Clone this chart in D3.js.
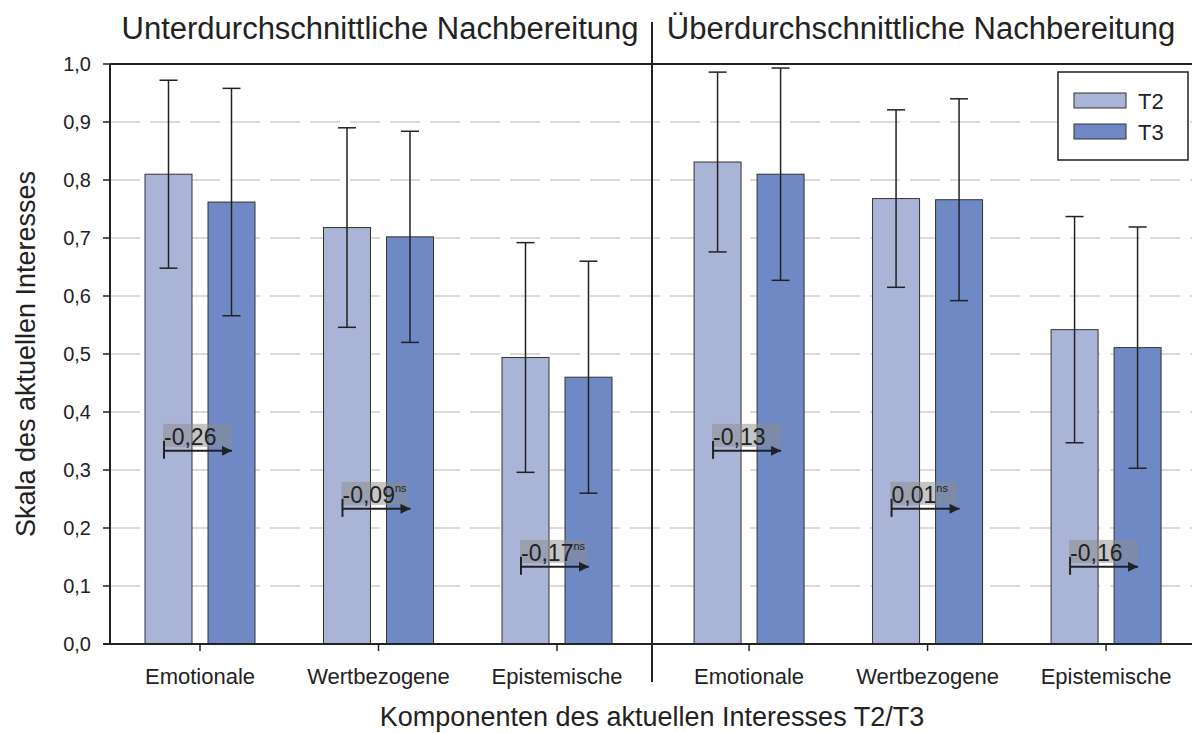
<!DOCTYPE html>
<html><head><meta charset="utf-8">
<script src="https://cdn.jsdelivr.net/npm/d3@7"></script>
<style>body{margin:0;background:#fff}svg{display:block;font-family:"Liberation Sans",Arial,sans-serif}</style>
</head><body><svg id="c" width="1192" height="733"></svg>
<script>
const categories = ["Emotionale","Wertbezogene","Epistemische","Emotionale","Wertbezogene","Epistemische"];
const halves = [0,0,0,1,1,1];
const panelTitles = ["Unterdurchschnittliche Nachbereitung","Überdurchschnittliche Nachbereitung"];
const seriesNames = ["T2","T3"];
const t2Mean = [0.810,0.718,0.494,0.831,0.768,0.542];
const t2SD   = [0.162,0.172,0.198,0.155,0.153,0.195];
const t3Mean = [0.762,0.702,0.460,0.810,0.766,0.511];
const t3SD   = [0.196,0.182,0.200,0.183,0.174,0.208];
const diffLabels = ["-0,26","-0,09","-0,17","-0,13","0,01","-0,16"];
const diffSig = ["","ns","ns","","ns",""];
const diffLevel = [0.333,0.233,0.133,0.333,0.233,0.133];
const yTicks = [0,0.1,0.2,0.3,0.4,0.5,0.6,0.7,0.8,0.9,1.0];
const colors = ["#aab4d7","#6e89c4"];

(function(){
const svg = d3.select("#c");
const pl = 110, pr = 1192, pt = 64, pb = 644;
const y = d3.scaleLinear().domain([0,1]).range([pb, pt]);
const halfGap = 0.076;
const x = d3.scaleLinear().domain([0,1]).range([200, 378.5]);
const pos = i => x(i + halves[i]*halfGap);
const divX = 652;

// grid
svg.append("g").selectAll("line").data(yTicks.filter(t=>t>0 && t<1)).join("line")
  .attr("x1", pl).attr("x2", pr).attr("y1", d=>y(d)).attr("y2", d=>y(d))
  .attr("stroke","#cfcfcf").attr("stroke-width",1.5).attr("stroke-dasharray","30,10");

// bars
const bw = 47, off = 8;
const series = [{m:t2Mean,s:t2SD},{m:t3Mean,s:t3SD}];
series.forEach((ser, k) => {
  const g = svg.append("g");
  g.selectAll("rect").data(categories).join("rect")
    .attr("x", (d,i)=> k===0 ? pos(i)-off-bw : pos(i)+off)
    .attr("y", (d,i)=> y(ser.m[i]))
    .attr("width", bw).attr("height", (d,i)=> y(0)-y(ser.m[i]))
    .attr("fill", colors[k]).attr("stroke","#333").attr("stroke-width",1);
});
// error bars
series.forEach((ser, k) => {
  const g = svg.append("g").attr("stroke","#222").attr("stroke-width",1.5);
  categories.forEach((d,i)=>{
    const cx = k===0 ? pos(i)-off-bw/2 : pos(i)+off+bw/2;
    const hi = y(ser.m[i]+ser.s[i]), lo = y(ser.m[i]-ser.s[i]);
    g.append("line").attr("x1",cx).attr("x2",cx).attr("y1",hi).attr("y2",lo);
    g.append("line").attr("x1",cx-9).attr("x2",cx+9).attr("y1",hi).attr("y2",hi);
    g.append("line").attr("x1",cx-9).attr("x2",cx+9).attr("y1",lo).attr("y2",lo);
  });
});

// annotations
svg.append("defs").append("marker").attr("id","ah").attr("viewBox","0 0 10 10")
  .attr("refX",10).attr("refY",5).attr("markerWidth",12).attr("markerHeight",10)
  .attr("markerUnits","userSpaceOnUse").attr("orient","auto")
  .append("path").attr("d","M0,0L10,5L0,10Z").attr("fill","#222");
categories.forEach((d,i)=>{
  const cx = pos(i), ay = y(diffLevel[i]);
  const g = svg.append("g");
  const wbox = diffSig[i] ? 67 : 69;
  g.append("rect").attr("x", cx-37).attr("y", ay-27).attr("width", wbox).attr("height", 23)
    .attr("fill","#8c8c8c").attr("fill-opacity",0.5);
  g.append("line").attr("x1",cx-36).attr("x2",cx-36).attr("y1",ay-10).attr("y2",ay+8)
    .attr("stroke","#222").attr("stroke-width",2);
  g.append("line").attr("x1",cx-36).attr("x2",cx+32).attr("y1",ay).attr("y2",ay)
    .attr("stroke","#222").attr("stroke-width",2).attr("marker-end","url(#ah)");
  const t = g.append("text").attr("x",cx-36).attr("y",ay-6).attr("font-size",23).attr("fill","#222")
    .text(diffLabels[i]);
  if (diffSig[i]) t.append("tspan").attr("font-size",11).attr("dy",-11).text(diffSig[i]);
});

// axes
const ax = svg.append("g").attr("stroke","#222").attr("stroke-width",2);
ax.append("line").attr("x1",pl).attr("x2",pl).attr("y1",pt).attr("y2",pb);
ax.append("line").attr("x1",pl-7).attr("x2",pr).attr("y1",pb).attr("y2",pb);
ax.append("line").attr("x1",pl).attr("x2",pr).attr("y1",pt).attr("y2",pt);
ax.append("line").attr("x1",divX).attr("x2",divX).attr("y1",22).attr("y2",682);
const fmt = d3.format(".1f");
svg.append("g").selectAll("line").data(yTicks).join("line")
  .attr("x1",pl-7).attr("x2",pl).attr("y1",d=>y(d)).attr("y2",d=>y(d))
  .attr("stroke","#222").attr("stroke-width",1.5);
svg.append("g").selectAll("text").data(yTicks).join("text")
  .attr("x",91).attr("y",d=>y(d)+7).attr("text-anchor","end").attr("font-size",20).attr("fill","#222")
  .text(d=>fmt(d).replace(".",","));
svg.append("g").selectAll("line").data(categories).join("line")
  .attr("x1",(d,i)=>pos(i)).attr("x2",(d,i)=>pos(i)).attr("y1",pb).attr("y2",pb+7)
  .attr("stroke","#222").attr("stroke-width",1.5);
svg.append("g").selectAll("text").data(categories).join("text")
  .attr("x",(d,i)=>pos(i)).attr("y",684).attr("text-anchor","middle").attr("font-size",22).attr("fill","#222")
  .text(d=>d);

// titles
svg.append("text").attr("x",380).attr("y",39).attr("text-anchor","middle").attr("font-size",31).attr("fill","#222").text(panelTitles[0]);
svg.append("text").attr("x",921).attr("y",39).attr("text-anchor","middle").attr("font-size",31).attr("fill","#222").text(panelTitles[1]);
svg.append("text").attr("x",652).attr("y",726).attr("text-anchor","middle").attr("font-size",27).attr("fill","#222").text("Komponenten des aktuellen Interesses T2/T3");
svg.append("text").attr("transform","translate(35,354) rotate(-90)").attr("text-anchor","middle").attr("font-size",27).attr("fill","#222").text("Skala des aktuellen Interesses");

// legend
const lg = svg.append("g");
lg.append("rect").attr("x",1058).attr("y",72).attr("width",130).attr("height",88).attr("fill","#fff").attr("stroke","#222").attr("stroke-width",1.5);
seriesNames.forEach((n,k)=>{
  lg.append("rect").attr("x",1074).attr("y",93+k*31).attr("width",52).attr("height",15).attr("fill",colors[k]).attr("stroke","#333");
  lg.append("text").attr("x",1138).attr("y",109+k*31).attr("font-size",22).attr("fill","#222").text(n);
});
})();
</script></body></html>
